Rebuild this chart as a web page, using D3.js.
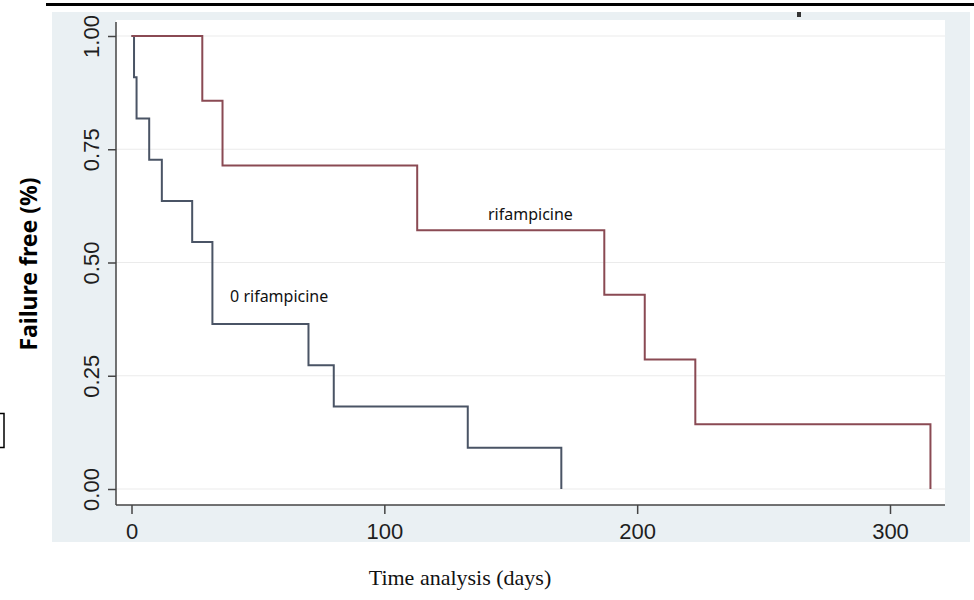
<!DOCTYPE html>
<html lang="en">
<head>
  <meta charset="UTF-8">
  <title>Failure free survival</title>
  <script src="https://d3js.org/d3.v7.min.js"></script>
  <style>
    body {
      margin: 0;
      background: #fff;
    }

    svg {
      display: block;
    }

    .tick-label {
      font: 22px "Liberation Sans", Arial, sans-serif;
      fill: #1e1e1e;
    }

    .curve-label {
      font: 16px "Noto Sans", "Open Sans", sans-serif;
      fill: #111;
    }
  </style>
</head>
<body>
  <svg width="974" height="600"></svg>

  <script>
    // Kaplan-Meier steps (days, proportion failure free)
    const rifDays = [0, 28, 36, 113, 187, 203, 223, 316];
    const rifSurv = [1.00, 0.857, 0.714, 0.571, 0.429, 0.286, 0.143, 0.00];

    const noRifDays = [0, 1, 2, 7, 12, 24, 32, 70, 80, 133, 170];
    const noRifSurv = [1.00, 0.909, 0.818, 0.727, 0.636, 0.545, 0.364, 0.273, 0.182, 0.091, 0.00];

    const xTicks = [0, 100, 200, 300];
    const yTicks = [0, 0.25, 0.5, 0.75, 1];

    const svg = d3.select("svg");

    // plot region box
    const plot = { left: 116, top: 20, right: 945, bottom: 505 };

    const x = d3.scaleLinear().domain([0, 300]).range([131.5, 890]);
    const y = d3.scaleLinear().domain([0, 1]).range([489, 36]);

    // black rule at the very top
    svg.append("line")
      .attr("x1", 46).attr("x2", 974)
      .attr("y1", 4.5).attr("y2", 4.5)
      .attr("stroke", "#000")
      .attr("stroke-width", 3);

    // graph region (light blue) and plot region (white)
    svg.append("rect")
      .attr("x", 52).attr("y", 12)
      .attr("width", 918).attr("height", 530)
      .attr("fill", "#eaf0f3");

    svg.append("rect")
      .attr("x", plot.left).attr("y", plot.top)
      .attr("width", plot.right - plot.left)
      .attr("height", plot.bottom - plot.top)
      .attr("fill", "#fff");

    // small mark on the top edge
    svg.append("rect")
      .attr("x", 797).attr("y", 12)
      .attr("width", 4).attr("height", 5)
      .attr("fill", "#333");

    // cut-off bracket at the left border
    svg.append("path")
      .attr("d", "M0,413.5H4V447.5H0")
      .attr("fill", "none")
      .attr("stroke", "#000")
      .attr("stroke-width", 1.5);

    // horizontal grid lines
    svg.append("g")
      .selectAll("line")
      .data(yTicks)
      .enter().append("line")
      .attr("x1", plot.left).attr("x2", plot.right)
      .attr("y1", d => y(d)).attr("y2", d => y(d))
      .attr("stroke", "#ebebeb")
      .attr("stroke-width", 1.2);

    // y axis
    const yAxis = svg.append("g")
      .attr("transform", `translate(${plot.left},0)`)
      .call(d3.axisLeft(y).tickValues(yTicks).tickFormat(d3.format(".2f")).tickSize(8));
    yAxis.select(".domain").remove();
    yAxis.selectAll(".tick line").attr("stroke", "#444").attr("stroke-width", 1.5);
    yAxis.selectAll(".tick text")
      .attr("class", "tick-label")
      .attr("x", null).attr("dy", null)
      .attr("text-anchor", "middle")
      .attr("transform", "translate(-17,0) rotate(-90)");

    // x axis
    const xAxis = svg.append("g")
      .attr("transform", `translate(0,${plot.bottom})`)
      .call(d3.axisBottom(x).tickValues(xTicks).tickSize(9));
    xAxis.select(".domain").remove();
    xAxis.selectAll(".tick line").attr("stroke", "#444").attr("stroke-width", 1.5);
    xAxis.selectAll(".tick text")
      .attr("class", "tick-label")
      .attr("y", 34).attr("dy", null);

    // axis lines across the plot region
    svg.append("line")
      .attr("x1", plot.left).attr("x2", plot.left)
      .attr("y1", plot.top + 2).attr("y2", plot.bottom)
      .attr("stroke", "#444").attr("stroke-width", 1.5);
    svg.append("line")
      .attr("x1", plot.left).attr("x2", plot.right)
      .attr("y1", plot.bottom).attr("y2", plot.bottom)
      .attr("stroke", "#444").attr("stroke-width", 1.5);

    // step curves
    const step = d3.line()
      .x(d => x(d[0]))
      .y(d => y(d[1]))
      .curve(d3.curveStepAfter);

    svg.append("path")
      .datum(d3.zip(noRifDays, noRifSurv))
      .attr("d", step)
      .attr("fill", "none")
      .attr("stroke", "#4a5465")
      .attr("stroke-width", 2);

    svg.append("path")
      .datum(d3.zip(rifDays, rifSurv))
      .attr("d", step)
      .attr("fill", "none")
      .attr("stroke", "#8a4a53")
      .attr("stroke-width", 2);

    // curve labels
    svg.append("text")
      .attr("class", "curve-label")
      .attr("x", x(141)).attr("y", y(0.594))
      .text("rifampicine");

    svg.append("text")
      .attr("class", "curve-label")
      .attr("x", x(39)).attr("y", y(0.413))
      .text("0 rifampicine");

    // axis titles
    svg.append("text")
      .attr("transform", "translate(37,264) rotate(-90)")
      .attr("text-anchor", "middle")
      .style("font", "bold 23px 'Noto Sans', 'Open Sans', sans-serif")
      .attr("fill", "#000")
      .text("Failure free (%)");

    svg.append("text")
      .attr("x", 460).attr("y", 585)
      .attr("text-anchor", "middle")
      .style("font", "22px 'Liberation Serif', 'Times New Roman', serif")
      .attr("fill", "#111")
      .text("Time analysis (days)");
  </script>
</body>
</html>
